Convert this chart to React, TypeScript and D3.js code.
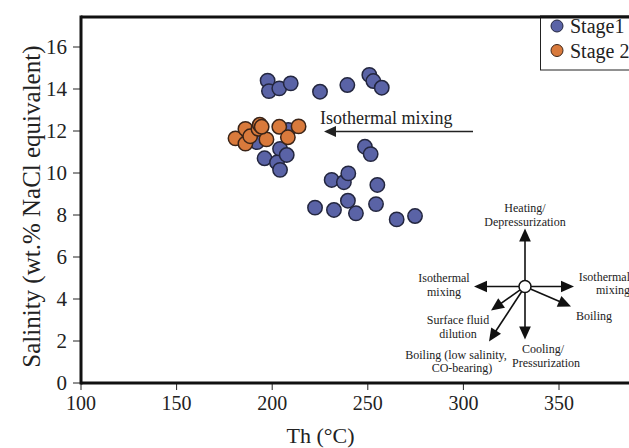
import * as d3 from "d3";

// Stage 1 inclusions: [Th (°C), salinity (wt.% NaCl eq.)]
const stage1: [number, number][] = [
  [197.6, 14.4], [198.3, 13.9], [203.7, 14.03], [209.7, 14.27], [225, 13.87],
  [239.3, 14.19], [250.8, 14.67], [252.9, 14.38], [257.3, 14.06],
  [248.5, 11.25], [251.5, 10.9],
  [192, 11.47], [208.4, 12.05], [204.1, 11.15], [196, 10.7], [202.5, 10.5],
  [207.6, 10.86], [204.1, 10.15],
  [231.1, 9.67], [237.5, 9.56], [239.8, 9.98], [255, 9.43], [222.4, 8.35],
  [232.3, 8.24], [239.6, 8.68], [243.8, 8.08], [254.3, 8.52], [265.1, 7.79],
  [274.7, 7.95],
];

const stage2: [number, number][] = [
  [180.8, 11.65], [186, 12.1], [186, 11.4], [188.5, 11.75], [192.8, 12.1],
  [193.5, 12.3], [197, 11.6], [194.5, 12.2], [203.7, 12.2], [208.2, 11.7],
  [213.8, 12.22],
];

const xTicks = [100, 150, 200, 250, 300, 350];
const yTicks = [0, 2, 4, 6, 8, 10, 12, 14, 16];

const FONT = "'Liberation Serif', 'Times New Roman', serif";
const BLUE = "#5a63a6";
const ORANGE = "#d97a3c";

const W = 629;
const H = 448;

// fluid-evolution sketch: direction (dx, dy in px) of each arrow
const arrows = [
  { name: "heating", dx: 0, dy: -58 },
  { name: "isoL", dx: -51, dy: 0 },
  { name: "isoR", dx: 49, dy: 0 },
  { name: "boiling", dx: 46, dy: 20 },
  { name: "cooling", dx: 0, dy: 53 },
  { name: "dilution", dx: -34, dy: 24 },
  { name: "boilLow", dx: -36, dy: 55 },
];

function head(x1: number, y1: number, x2: number, y2: number, size = 10) {
  const a = Math.atan2(y2 - y1, x2 - x1);
  const w = size * 0.45;
  const bx = x2 - size * Math.cos(a);
  const by = y2 - size * Math.sin(a);
  const p1 = [bx + w * Math.sin(a), by - w * Math.cos(a)];
  const p2 = [bx - w * Math.sin(a), by + w * Math.cos(a)];
  return `M${x2},${y2}L${p1[0]},${p1[1]}L${p2[0]},${p2[1]}Z`;
}

export default function App() {
  const x = d3.scaleLinear().domain([100, 350]).range([81, 559]);
  const y = d3.scaleLinear().domain([0, 16]).range([383, 47]);
  const top = y(17.43);
  const right = 700;

  const cx = 525;
  const cy = 286.5;

  return (
    <svg
      width={W}
      height={H}
      style={{ position: "absolute", left: 0, top: 0, background: "#fff" }}
      fontFamily={FONT}
    >
      <rect width={W} height={H} fill="#fff" />

      {/* ticks */}
      {yTicks.map((t) => (
        <g key={"y" + t}>
          <line x1={73} x2={81} y1={y(t)} y2={y(t)} stroke="#222" strokeWidth={1} />
          <text x={67} y={y(t)} dy="0.35em" textAnchor="end" fontSize={21} fill="#222">
            {t}
          </text>
        </g>
      ))}
      {xTicks.map((t) => (
        <g key={"x" + t}>
          <line x1={x(t)} x2={x(t)} y1={383} y2={390} stroke="#222" strokeWidth={1} />
          <text x={x(t)} y={410} textAnchor="middle" fontSize={20} fill="#222">
            {t}
          </text>
        </g>
      ))}

      {/* frame */}
      <line x1={81} x2={right} y1={383} y2={383} stroke="#111" strokeWidth={3} />
      <line x1={81} x2={right} y1={top} y2={top} stroke="#111" strokeWidth={3} />
      <line x1={81} x2={81} y1={top - 1.5} y2={384.5} stroke="#111" strokeWidth={3} />

      {/* axis titles */}
      <text x={320.5} y={443} textAnchor="middle" fontSize={22} fill="#222">
        Th (°C)
      </text>
      <text
        transform={`translate(31,${y(8.4)}) rotate(-90)`}
        textAnchor="middle"
        dy="0.35em"
        fontSize={25}
        fill="#222"
      >
        Salinity (wt.% NaCl equivalent)
      </text>

      {/* isothermal mixing trend */}
      <text x={320} y={124} fontSize={18} fill="#222">
        Isothermal mixing
      </text>
      <line x1={473} x2={334} y1={131.5} y2={131.5} stroke="#222" strokeWidth={1.5} />
      <path d={head(473, 131.5, 324, 131.5, 12)} fill="#222" />

      {/* points */}
      {stage1.map((d, i) => (
        <circle key={"a" + i} cx={x(d[0])} cy={y(d[1])} r={7.2} fill={BLUE} stroke="#23263f" strokeWidth={1.5} />
      ))}
      {stage2.map((d, i) => (
        <circle key={"b" + i} cx={x(d[0])} cy={y(d[1])} r={7.2} fill={ORANGE} stroke="#3a2418" strokeWidth={1.5} />
      ))}

      {/* process diagram */}
      {arrows.map((a) => {
        const len = Math.hypot(a.dx, a.dy);
        const sx = cx + (a.dx / len) * 6;
        const sy = cy + (a.dy / len) * 6;
        const ex = cx + a.dx;
        const ey = cy + a.dy;
        return (
          <g key={a.name}>
            <line x1={sx} y1={sy} x2={ex - (a.dx / len) * 8} y2={ey - (a.dy / len) * 8} stroke="#111" strokeWidth={1.6} />
            <path d={head(sx, sy, ex, ey, 13)} fill="#111" />
          </g>
        );
      })}
      <circle cx={cx} cy={cy} r={6} fill="#fff" stroke="#111" strokeWidth={1.5} />
      <g fontSize={12} fill="#222" textAnchor="middle">
        <text x={525} y={212}>Heating/</text>
        <text x={525} y={226}>Depressurization</text>
        <text x={444} y={282}>Isothermal</text>
        <text x={444} y={296}>mixing</text>
        <text x={630} y={281} textAnchor="end">Isothermal</text>
        <text x={630} y={294} textAnchor="end">mixing</text>
        <text x={594} y={320}>Boiling</text>
        <text x={458} y={324}>Surface fluid</text>
        <text x={458} y={338}>dilution</text>
        <text x={543} y={353}>Cooling/</text>
        <text x={546} y={367}>Pressurization</text>
        <text x={456} y={359}>Boiling (low salinity,</text>
        <text x={462} y={372}>CO-bearing)</text>
      </g>

      {/* legend */}
      <rect x={540.5} y={top} width={120} height={70 - top} fill="#fff" stroke="#222" strokeWidth={1} />
      <line x1={540} x2={right} y1={top} y2={top} stroke="#111" strokeWidth={3} />
      <circle cx={557} cy={26} r={6} fill={BLUE} stroke="#23263f" strokeWidth={1} />
      <circle cx={557} cy={50.5} r={6} fill={ORANGE} stroke="#3a2418" strokeWidth={1} />
      <text x={570} y={26} dy="0.35em" fontSize={20} fill="#222">Stage1</text>
      <text x={570} y={50.5} dy="0.35em" fontSize={20} fill="#222">Stage 2</text>
    </svg>
  );
}
